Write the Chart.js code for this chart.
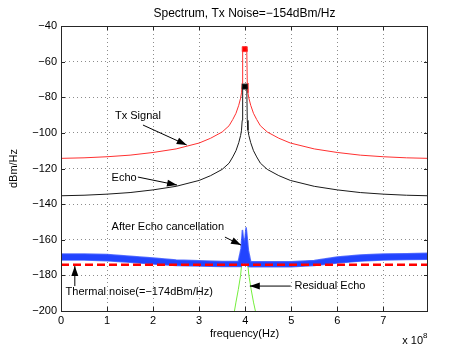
<!DOCTYPE html>
<html lang="en">
<head>
<meta charset="UTF-8">
<title>Spectrum, Tx Noise</title>
<script src="https://cdn.jsdelivr.net/npm/chart.js"></script>
<style>
  html, body { margin: 0; padding: 0; background: #fff; }
</style>
</head>
<body>
<canvas id="spec" width="472" height="350"></canvas>
<script>
// frequency in units of 1e8 Hz
const curveFreq = [0, 0.5, 1, 1.5, 2, 2.5, 3, 3.25, 3.5, 3.65, 3.73, 3.8, 3.86, 3.9, 3.92, 3.935, 3.945, 3.96, 3.99, 4.02, 4.035, 4.045, 4.06, 4.08, 4.12, 4.18, 4.25, 4.33, 4.48, 4.73, 4.98, 5.5, 6, 6.5, 7, 7.5, 7.97];
const txSignal  = [-114.3, -114.0, -113.4, -112.5, -111.0, -109.0, -105.7, -103.0, -99.5, -96.0, -92.5, -89.0, -84.5, -80.5, -77.5, -72, -54, -53, -53, -53, -54, -72, -77.5, -80.5, -84.5, -89.0, -92.5, -96.0, -99.5, -103.0, -105.7, -109.0, -111.0, -112.5, -113.4, -114.0, -114.3];
const echo      = [-135.3, -135.0, -134.4, -133.5, -132.0, -130.0, -126.7, -124.0, -120.5, -117.0, -113.5, -110.0, -105.5, -101.5, -98.5, -93, -75, -74, -74, -74, -75, -93, -98.5, -101.5, -105.5, -110.0, -113.5, -117.0, -120.5, -124.0, -126.7, -130.0, -132.0, -133.5, -134.4, -135.0, -135.3];

const bandFreq  = [0, 0.5, 1, 1.5, 2, 2.5, 3, 3.5, 3.85, 3.91, 3.94, 3.96, 3.99, 4.02, 4.04, 4.07, 4.12, 4.5, 5, 5.5, 6, 6.5, 7, 7.5, 7.97];
const afterUpper = [-168.0, -168.0, -168.3, -169.2, -170.3, -171.3, -171.8, -172.2, -172.2, -165, -154.5, -159, -161, -153, -158, -166, -172.3, -172.3, -172.3, -171.6, -169.7, -168.6, -168.0, -167.8, -167.6];
const afterLower = [-171.4, -171.4, -171.8, -172.6, -173.6, -174.5, -174.8, -175.0, -175.0, -175.0, -174, -173, -174, -173, -174, -175, -175.1, -175.1, -175.1, -174.4, -173.0, -172.0, -171.3, -171.1, -170.9];

const residFreq = [3.76, 3.8, 3.85, 3.9, 3.93, 3.96, 3.99, 4.02, 4.05, 4.08, 4.13, 4.18, 4.23];
const residual  = [-201, -195, -188, -180, -172, -162, -160, -162, -172, -180, -188, -195, -201];

const thermalFreq = [0, 7.97];
const thermal     = [-174, -174];

const xTicks = [0, 1, 2, 3, 4, 5, 6, 7];
const yTicks = [-200, -180, -160, -140, -120, -100, -80, -60, -40];

const titleText = 'Spectrum, Tx Noise=\u2212154dBm/Hz';

// annotations, in data units
const noteText  = ['Tx Signal', 'Echo', 'After Echo cancellation', 'Thermal noise(=\u2212174dBm/Hz)', 'Residual Echo'];
const noteAt    = [[1.67, -90.5], [1.37, -125.3], [2.32, -152.9], [1.70, -189.4], [5.84, -186]];
const arrowFrom = [[1.78, -95.6], [1.67, -124.8], [3.56, -158.5], [0.30, -186], [4.99, -186]];
const arrowTo   = [[2.73, -106.8], [2.52, -129.3], [3.91, -163], [0.30, -174.8], [4.10, -186]];

const FONT = '"Liberation Sans", Arial, sans-serif';
Chart.defaults.font.family = FONT;
Chart.defaults.color = '#000';

const pts = (xs, ys) => xs.map((x, i) => ({ x: x, y: ys[i] }));
const minus = v => String(v).replace('-', '\u2212');
const peakIdx = txSignal.indexOf(Math.max(...txSignal)) + 1;

const frame = {
  id: 'frame',
  afterDraw(chart) {
    const { ctx, chartArea: a, scales: { x, y } } = chart;
    ctx.save();
    ctx.strokeStyle = '#262626';
    ctx.lineWidth = 1;
    ctx.strokeRect(a.left + 0.5, a.top + 0.5, a.right - a.left - 1, a.bottom - a.top);
    ctx.beginPath();
    xTicks.forEach(v => {
      const px = Math.round(x.getPixelForValue(v)) + 0.5;
      ctx.moveTo(px, a.bottom); ctx.lineTo(px, a.bottom - 4);
      ctx.moveTo(px, a.top); ctx.lineTo(px, a.top + 4);
    });
    yTicks.forEach(v => {
      const py = Math.round(y.getPixelForValue(v)) + 0.5;
      ctx.moveTo(a.left, py); ctx.lineTo(a.left + 4, py);
      ctx.moveTo(a.right, py); ctx.lineTo(a.right - 4, py);
    });
    ctx.stroke();

    ctx.fillStyle = '#000';
    ctx.strokeStyle = '#000';

    // title, centred over the plot box
    ctx.font = '12px ' + FONT;
    ctx.textAlign = 'center';
    ctx.textBaseline = 'middle';
    ctx.fillText(titleText, (a.left + a.right) / 2, 14);

    // labels and arrows
    ctx.font = '11px ' + FONT;
    noteText.forEach((t, i) => {
      ctx.fillText(t, x.getPixelForValue(noteAt[i][0]), y.getPixelForValue(noteAt[i][1]));
      const x0 = x.getPixelForValue(arrowFrom[i][0]), y0 = y.getPixelForValue(arrowFrom[i][1]);
      const x1 = x.getPixelForValue(arrowTo[i][0]), y1 = y.getPixelForValue(arrowTo[i][1]);
      const ang = Math.atan2(y1 - y0, x1 - x0);
      ctx.beginPath();
      ctx.moveTo(x0, y0); ctx.lineTo(x1, y1);
      ctx.stroke();
      ctx.beginPath();
      ctx.moveTo(x1, y1);
      ctx.lineTo(x1 - 10 * Math.cos(ang) + 3.5 * Math.sin(ang), y1 - 10 * Math.sin(ang) - 3.5 * Math.cos(ang));
      ctx.lineTo(x1 - 10 * Math.cos(ang) - 3.5 * Math.sin(ang), y1 - 10 * Math.sin(ang) + 3.5 * Math.cos(ang));
      ctx.closePath();
      ctx.fill();
    });

    // exponent label
    ctx.textAlign = 'right';
    ctx.textBaseline = 'alphabetic';
    ctx.fillText('x 10', a.right - 5, 344);
    ctx.font = '8px ' + FONT;
    ctx.textAlign = 'left';
    ctx.fillText('8', a.right - 5, 338);
    ctx.restore();
  }
};

new Chart(document.getElementById('spec'), {
  type: 'line',
  data: {
    datasets: [
      { data: pts(thermalFreq, thermal), borderColor: '#ff0000', borderWidth: 2.5, borderDash: [8, 4], pointRadius: 0, order: 0 },
      { data: pts(bandFreq, afterUpper), borderColor: 'rgba(50,80,255,0.8)', backgroundColor: '#2244ff', borderWidth: 1.5, pointRadius: 0, fill: '+1', order: 1 },
      { data: pts(bandFreq, afterLower), borderColor: 'rgba(50,80,255,0.8)', borderWidth: 1.5, pointRadius: 0, order: 2 },
      { data: pts(residFreq, residual), borderColor: '#74ee3c', borderWidth: 1, pointRadius: 0, order: 3 },
      { data: pts(curveFreq, echo), borderColor: '#1a1a1a', backgroundColor: '#000', borderWidth: 1, pointStyle: 'rect',
        pointRadius: c => c.dataIndex === peakIdx ? 3.5 : 0, order: 4 },
      { data: pts(curveFreq, txSignal), borderColor: '#ff3030', backgroundColor: '#ff0000', borderWidth: 1, pointStyle: 'rect',
        pointRadius: c => c.dataIndex === peakIdx ? 3.5 : 0, order: 5 }
    ]
  },
  options: {
    responsive: false,
    animation: false,
    events: [],
    layout: { padding: { left: 0, right: 44, top: 26, bottom: 0 } },
    plugins: {
      legend: { display: false },
      tooltip: { enabled: false },
      title: { display: false }
    },
    scales: {
      x: {
        type: 'linear', min: 0, max: 7.97,
        afterFit: s => { s.height = 39; },
        afterBuildTicks: s => { s.ticks = xTicks.map(v => ({ value: v })); },
        ticks: { padding: 3.5, font: { size: 11 }, maxRotation: 0, autoSkip: false, color: '#000' },
        grid: { color: 'rgba(0,0,0,0.45)', drawTicks: false, lineWidth: 1 },
        border: { display: false, dash: [1, 3] },
        title: { display: true, text: 'frequency(Hz)', color: '#000', font: { size: 11 }, padding: { top: 0, bottom: 9.4 } }
      },
      y: {
        type: 'linear', min: -200, max: -40,
        afterFit: s => { s.width = 61; },
        afterBuildTicks: s => { s.ticks = yTicks.map(v => ({ value: v })); },
        ticks: { padding: 4, font: { size: 11 }, color: '#000', callback: v => minus(v) },
        grid: { color: 'rgba(0,0,0,0.45)', drawTicks: false, lineWidth: 1 },
        border: { display: false, dash: [1, 3] },
        title: { display: true, text: 'dBm/Hz', color: '#000', font: { size: 11 }, padding: { top: 7.4, bottom: 0 } }
      }
    }
  },
  plugins: [frame]
});
</script>
</body>
</html>
